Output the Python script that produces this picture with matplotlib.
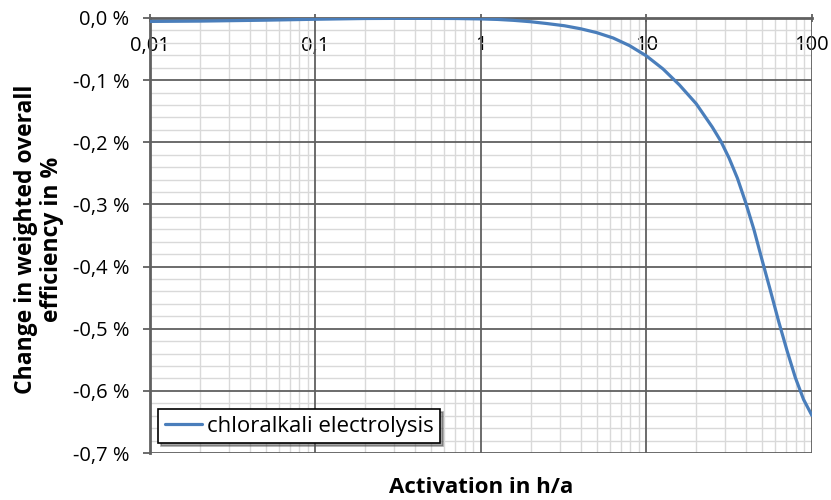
import matplotlib.pyplot as plt
from matplotlib.ticker import FixedLocator, FuncFormatter, MultipleLocator, LogLocator, NullFormatter

# data (activation in h/a, change in %)
activation = [0.01, 0.02, 0.05, 0.1, 0.2, 0.4, 0.7, 1, 1.26, 1.58, 2, 2.5, 3.2,
              4, 5, 6.3, 7.9, 10, 12.6, 15.8, 20, 25, 28.2, 31.6, 35.5, 39.8,
              44.7, 50, 56.2, 63, 70.8, 79.4, 89.1, 100]
efficiency_change = [-0.0055, -0.005, -0.0035, -0.002, -0.0008, -0.0005, -0.0008,
                     -0.0015, -0.0023, -0.0038, -0.006, -0.0089, -0.0125,
                     -0.0173, -0.0235, -0.0322, -0.0444, -0.061, -0.082, -0.1075,
                     -0.138, -0.1755, -0.1985, -0.2255, -0.258, -0.297, -0.341,
                     -0.3895, -0.439, -0.4885, -0.5355, -0.5785, -0.614, -0.6395]
x_ticks = [0.01, 0.1, 1, 10, 100]
x_tick_labels = ["0,01", "0,1", "1", "10", "100"]
y_ticks = [0.0, -0.1, -0.2, -0.3, -0.4, -0.5, -0.6, -0.7]
series_name = "chloralkali electrolysis"

plt.rcParams['font.family'] = ['Open Sans', 'DejaVu Sans']
grid_dark = '#606060'

fig = plt.figure(figsize=(8.31, 5), dpi=100)
ax = fig.add_axes([0.1805, 0.094, 0.7965, 0.870])

ax.plot(activation, efficiency_change, color='#4a7ebb', lw=2.3,
        label=series_name, zorder=5, solid_capstyle='round')

ax.set_xscale('log')
ax.set_xlim(0.01, 100)
ax.set_ylim(-0.7, 0.0)

# minor grid from the locators, major grid drawn on top of it
ax.xaxis.set_major_locator(FixedLocator(x_ticks))
ax.xaxis.set_minor_locator(LogLocator(base=10, subs=range(2, 10)))
ax.xaxis.set_minor_formatter(NullFormatter())
ax.yaxis.set_major_locator(FixedLocator(y_ticks))
ax.yaxis.set_minor_locator(MultipleLocator(0.02))
ax.grid(which='minor', color='#d9d9d9', lw=1.0)
ax.set_axisbelow(True)
for xv in x_ticks[1:]:
    ax.axvline(xv, color=grid_dark, lw=1.3, zorder=2)
for yv in y_ticks[1:]:
    ax.axhline(yv, color=grid_dark, lw=1.3, zorder=2)

# x labels sit just under the top (zero) line
ax.xaxis.set_major_formatter(FuncFormatter(lambda v, p: x_tick_labels[x_ticks.index(v)] if v in x_ticks else ""))
ax.tick_params(axis='x', which='major', top=True, bottom=False, labeltop=True,
               labelbottom=False, direction='inout', length=6, width=1.3,
               color=grid_dark, pad=-30, labelsize=14.5)
ax.tick_params(axis='x', which='minor', top=False, bottom=False)


def pct(v, p):
    s = f"{v:.1f} %".replace('.', ',')
    return "0,0 %" if s.startswith("-0,0") else s


ax.yaxis.set_major_formatter(FuncFormatter(pct))
ax.tick_params(axis='y', which='major', direction='out', length=5, width=1.3,
               color=grid_dark, labelsize=14.5, pad=10)
ax.tick_params(axis='y', which='minor', left=False)

for side in ['left', 'top']:
    ax.spines[side].set_color(grid_dark)
    ax.spines[side].set_linewidth(2)
    ax.spines[side].set_zorder(3)
for side in ['right', 'bottom']:
    ax.spines[side].set_visible(False)

ax.set_xlabel("Activation in h/a", fontsize=16, fontweight='bold', va='center')
ax.xaxis.set_label_coords(0.5, -0.080)
ax.set_ylabel("Change in weighted overall\nefficiency in %", fontsize=16.5,
              fontweight='bold', linespacing=1.1, va='center', ha='center',
              multialignment='center')
ax.yaxis.set_label_coords(-0.168, 0.492)

leg = ax.legend(loc='lower left', bbox_to_anchor=(0.012, 0.022), borderaxespad=0,
                fontsize=16, frameon=True, fancybox=False, shadow=True,
                handlelength=1.7, handletextpad=0.2, borderpad=0.3)
leg.get_frame().set_edgecolor('black')
leg.get_frame().set_linewidth(1.2)
leg.set_zorder(10)

fig.savefig("out.png", dpi=100)
